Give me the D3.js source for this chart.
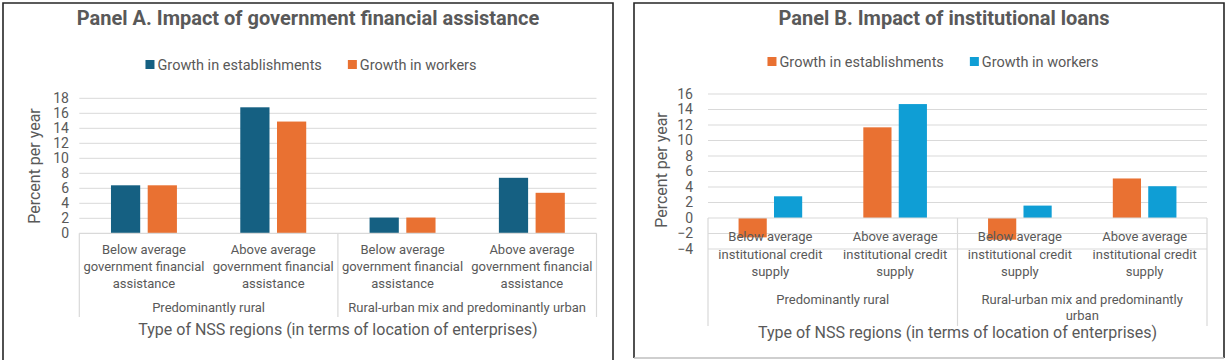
<!DOCTYPE html>
<html><head><meta charset="utf-8">
<script src="https://cdn.jsdelivr.net/npm/d3@7"></script>
<style>
html,body{margin:0;padding:0;background:#fff;}
svg text{font-family:Roboto,"Liberation Sans",sans-serif;fill:#595959;}
</style></head>
<body><svg id="c" width="1227" height="360"></svg>
<script>
// ---------- Data ----------
const seriesNames = ["Growth in establishments", "Growth in workers"];

const groupsA = ["Predominantly rural", "Rural-urban mix and predominantly urban"];
const categoriesA = [
  "Below average|government financial|assistance",
  "Above average|government financial|assistance",
  "Below average|government financial|assistance",
  "Above average|government financial|assistance"
];
const establishmentsA = [6.4, 16.8, 2.1, 7.4];
const workersA = [6.4, 14.9, 2.1, 5.4];
const ticksA = [0, 2, 4, 6, 8, 10, 12, 14, 16, 18];

const groupsB = ["Predominantly rural", "Rural-urban mix and predominantly|urban"];
const categoriesB = [
  "Below average|institutional credit|supply",
  "Above average|institutional credit|supply",
  "Below average|institutional credit|supply",
  "Above average|institutional credit|supply"
];
const establishmentsB = [-2.5, 11.7, -2.8, 5.1];
const workersB = [2.8, 14.7, 1.6, 4.1];
const ticksB = [-4, -2, 0, 2, 4, 6, 8, 10, 12, 14, 16];

const titleA = "Panel A. Impact of government financial assistance";
const titleB = "Panel B. Impact of institutional loans";
const yTitle = "Percent per year";
const xTitle = "Type of NSS regions (in terms of location of enterprises)";

// ---------- Drawing ----------
const svg = d3.select("#c");
const GRID = "#d9d9d9";

function panel(cfg) {
  const g = svg.append("g");
  // frame
  g.append("path")
    .attr("d", `M${cfg.box[0]},${cfg.box[3]} L${cfg.box[0]},${cfg.box[1]} L${cfg.box[2]},${cfg.box[1]} L${cfg.box[2]},${cfg.box[3]}`)
    .attr("fill", "none").attr("stroke", "#262626").attr("stroke-width", 1.6);
  if (cfg.bottomBorder) {
    g.append("line").attr("x1", cfg.box[0]).attr("x2", cfg.box[2])
      .attr("y1", cfg.box[3]).attr("y2", cfg.box[3])
      .attr("stroke", "#bfbfbf").attr("stroke-width", 1.5);
  }
  g.append("text").attr("x", cfg.titleCx).attr("y", 25).attr("text-anchor", "middle")
    .style("font-size", "20px").style("font-weight", "bold").text(cfg.title);

  // legend (centered)
  const lg = g.append("g");
  let off = 0;
  cfg.series.forEach((s, i) => {
    const it = lg.append("g").attr("transform", `translate(${off},0)`);
    it.append("rect").attr("x", 0).attr("y", -5).attr("width", 9).attr("height", 9).attr("fill", cfg.colors[i]);
    const t = it.append("text").attr("x", 12).attr("y", 4.8).style("font-size", "14.5px").text(s);
    off += 12 + t.node().getComputedTextLength() + (i < cfg.series.length - 1 ? 26 : 0);
  });
  lg.attr("transform", `translate(${cfg.legendCx - off / 2},${cfg.legendY})`);

  const y = d3.scaleLinear().domain(cfg.domain).range(cfg.yRange);
  const x0 = d3.scaleBand().domain(d3.range(cfg.categories.length)).range(cfg.xRange).paddingInner(0).paddingOuter(0);
  const bw = x0.bandwidth();
  const barW = bw * 0.226, gap = bw * 0.058;

  // gridlines
  g.append("g").selectAll("line").data(cfg.ticks.filter(t => t !== 0)).join("line")
    .attr("x1", cfg.xRange[0]).attr("x2", cfg.xRange[1])
    .attr("y1", d => y(d)).attr("y2", d => y(d))
    .attr("stroke", GRID).attr("stroke-width", 1);

  // y axis labels
  const ya = d3.axisLeft(y).tickValues(cfg.ticks).tickSize(0).tickPadding(0);
  const yg = g.append("g").attr("transform", `translate(${cfg.tickX},0)`).call(ya);
  yg.select(".domain").remove();
  yg.selectAll("text").style("font-size", "14px").attr("fill", "#595959").attr("font-family", null);

  // bars
  const vals = [cfg.s1, cfg.s2];
  vals.forEach((arr, si) => {
    g.append("g").selectAll("rect").data(arr).join("rect")
      .attr("x", (d, i) => x0(i) + bw / 2 + (si === 0 ? -gap / 2 - barW : gap / 2))
      .attr("y", d => Math.min(y(d), y(0)))
      .attr("width", barW)
      .attr("height", d => Math.abs(y(d) - y(0)))
      .attr("fill", cfg.colors[si]);
  });

  // category axis line at 0
  g.append("line").attr("x1", cfg.xRange[0]).attr("x2", cfg.xRange[1])
    .attr("y1", y(0)).attr("y2", y(0)).attr("stroke", GRID).attr("stroke-width", 1.2);
  // separators
  const nG = cfg.groups.length, per = cfg.categories.length / nG;
  const seps = d3.range(nG + 1).map(k => k === nG ? cfg.xRange[1] : x0(k * per));
  g.append("g").selectAll("line").data(seps).join("line")
    .attr("x1", d => d).attr("x2", d => d)
    .attr("y1", y(0)).attr("y2", cfg.sepBottom)
    .attr("stroke", GRID).attr("stroke-width", 1.2);

  // category labels
  cfg.categories.forEach((c, i) => {
    const t = g.append("text").attr("text-anchor", "middle").style("font-size", "13px");
    c.split("|").forEach((ln, j) => {
      t.append("tspan").attr("x", x0(i) + bw / 2).attr("y", cfg.catY + j * cfg.lineH).text(ln);
    });
  });
  cfg.groups.forEach((gr, k) => {
    const mid = (seps[k] + seps[k + 1]) / 2;
    const t = g.append("text").attr("text-anchor", "middle").style("font-size", "13px");
    gr.split("|").forEach((ln, j) => {
      t.append("tspan").attr("x", mid).attr("y", cfg.groupY + j * cfg.groupLineH).text(ln);
    });
  });

  // axis titles
  g.append("text").attr("x", (cfg.xRange[0] + cfg.xRange[1]) / 2).attr("y", cfg.xTitleY)
    .attr("text-anchor", "middle").style("font-size", "16px").text(xTitle);
  g.append("text").attr("transform", `translate(${cfg.yTitleX},${cfg.yTitleY}) rotate(-90)`)
    .attr("text-anchor", "middle").style("font-size", "16px").text(yTitle);
}

panel({
  box: [3, 3, 613, 372], bottomBorder: false,
  title: titleA, titleCx: 308, series: seriesNames, colors: ["#156082", "#E97132"],
  legendCx: 311, legendY: 65,
  domain: [0, 18], yRange: [233.3, 98.3], xRange: [79.3, 596.5],
  ticks: ticksA, tickX: 69,
  categories: categoriesA, groups: groupsA, s1: establishmentsA, s2: workersA,
  sepBottom: 317, catY: 254, lineH: 17, groupY: 312, groupLineH: 17, xTitleY: 335,
  yTitleX: 40, yTitleY: 166
});

panel({
  box: [634, 3, 1224, 358], bottomBorder: true,
  title: titleB, titleCx: 944, series: seriesNames, colors: ["#E97132", "#0F9ED5"],
  legendCx: 933, legendY: 62,
  domain: [-4, 16], yRange: [249, 94], xRange: [708, 1207],
  ticks: ticksB, tickX: 693,
  categories: categoriesB, groups: groupsB, s1: establishmentsB, s2: workersB,
  sepBottom: 326, catY: 241, lineH: 17.5, groupY: 304, groupLineH: 16, xTitleY: 338,
  yTitleX: 667, yTitleY: 170
});
</script></body></html>
